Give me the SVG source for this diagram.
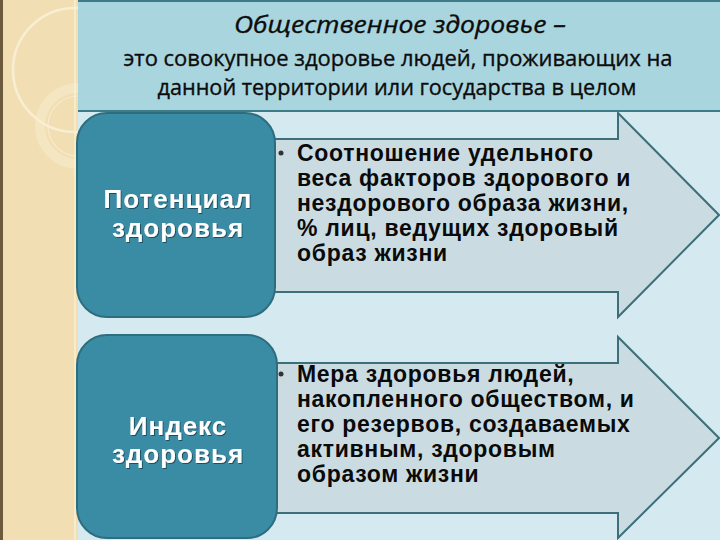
<svg xmlns="http://www.w3.org/2000/svg" width="720" height="540" viewBox="0 0 720 540">
  <defs>
    <style>
      .hdr { font-family: "Open Sans", "Noto Sans", sans-serif; fill: #0c0c0c; stroke: #0c0c0c; stroke-width: 0.35px; text-anchor: middle; font-weight: normal; }
      .node { fill: #3a8ca5; stroke: #2e6d7e; stroke-width: 2; }
      .nlabel { font-family: "Liberation Sans", Arial, sans-serif; font-size: 26px; font-weight: bold; fill: #ffffff; text-anchor: middle; letter-spacing: 1px; }
      .arrow { fill: #cadce2; stroke: #3c6f79; stroke-width: 2; stroke-linejoin: miter; }
      .btext { font-family: "Liberation Sans", Arial, sans-serif; font-size: 23px; font-weight: bold; fill: #0a0a0a; letter-spacing: 0.7px; }
      .ring { fill: none; stroke: #fbf3dc; }
    </style>
    <filter id="tshadow" x="-10%" y="-10%" width="120%" height="130%">
      <feDropShadow dx="1" dy="1" stdDeviation="0.6" flood-color="#0d3440" flood-opacity="0.7"/>
    </filter>
    <clipPath id="stripclip"><rect x="0" y="0" width="78" height="540"/></clipPath>
  </defs>

  <!-- background -->
  <rect x="0" y="0" width="720" height="540" fill="#d4eaf0"/>
  <!-- left beige strip -->
  <rect x="0" y="0" width="78" height="540" fill="#f1deb3"/>
  <rect x="0" y="0" width="3" height="540" fill="#6b5a3c"/>
  <rect x="74" y="0" width="2" height="540" fill="#f8ebc8"/>
  <g clip-path="url(#stripclip)" opacity="0.8">
    <circle class="ring" cx="75" cy="70" r="62" stroke-width="2.5"/>
    <circle class="ring" cx="78" cy="126" r="38" stroke-width="10" opacity="0.45"/>
    <circle class="ring" cx="78" cy="126" r="30" stroke-width="1.2" opacity="0.7"/>
  </g>

  <!-- header -->
  <g id="header">
    <rect x="78" y="0" width="642" height="111" fill="#a9d5df"/>
    <rect x="78" y="0" width="642" height="2" fill="#3e7b88"/>
    <rect x="78" y="110" width="642" height="2" fill="#3e7b88"/>
    <text class="hdr" x="400" y="33" font-size="23" font-style="italic" textLength="332" lengthAdjust="spacingAndGlyphs">Общественное здоровье –</text>
    <text class="hdr" x="398" y="66" font-size="21.5" textLength="549" lengthAdjust="spacingAndGlyphs">это совокупное здоровье людей, проживающих на</text>
    <text class="hdr" x="397" y="95" font-size="21.5" textLength="479" lengthAdjust="spacingAndGlyphs">данной территории или государства в целом</text>
  </g>

  <!-- connectors (arrows) -->
  <g id="connectors">
    <path class="arrow" d="M250,139 L618,139 L618,113 L719,215 L618,317 L618,292 L250,292 Z"/>
    <path class="arrow" d="M250,363 L618,363 L618,337 L719,438 L618,538 L618,513 L250,513 Z"/>
  </g>

  <g id="node-potential">
    <rect class="node" x="77" y="113" width="198" height="204" rx="30" ry="30"/>
    <g filter="url(#tshadow)">
      <text class="nlabel" x="178" y="208">Потенциал</text>
      <text class="nlabel" x="178" y="237">здоровья</text>
    </g>
  </g>

  <g id="node-index">
    <rect class="node" x="77" y="335" width="200" height="203" rx="30" ry="30"/>
    <g filter="url(#tshadow)">
      <text class="nlabel" x="178" y="435">Индекс</text>
      <text class="nlabel" x="178" y="463">здоровья</text>
    </g>
  </g>

  <g id="text-potential">
    <circle cx="281" cy="153" r="2.5" fill="#333"/>
    <text class="btext" x="297" y="161">Соотношение удельного</text>
    <text class="btext" x="297" y="186">веса факторов здорового и</text>
    <text class="btext" x="297" y="211">нездорового образа жизни,</text>
    <text class="btext" x="297" y="236">% лиц, ведущих здоровый</text>
    <text class="btext" x="297" y="261">образ жизни</text>
  </g>

  <g id="text-index">
    <circle cx="281" cy="374" r="2.5" fill="#333"/>
    <text class="btext" x="297" y="382">Мера здоровья людей,</text>
    <text class="btext" x="297" y="407">накопленного обществом, и</text>
    <text class="btext" x="297" y="432">его резервов, создаваемых</text>
    <text class="btext" x="297" y="457">активным, здоровым</text>
    <text class="btext" x="297" y="482">образом жизни</text>
  </g>
</svg>
